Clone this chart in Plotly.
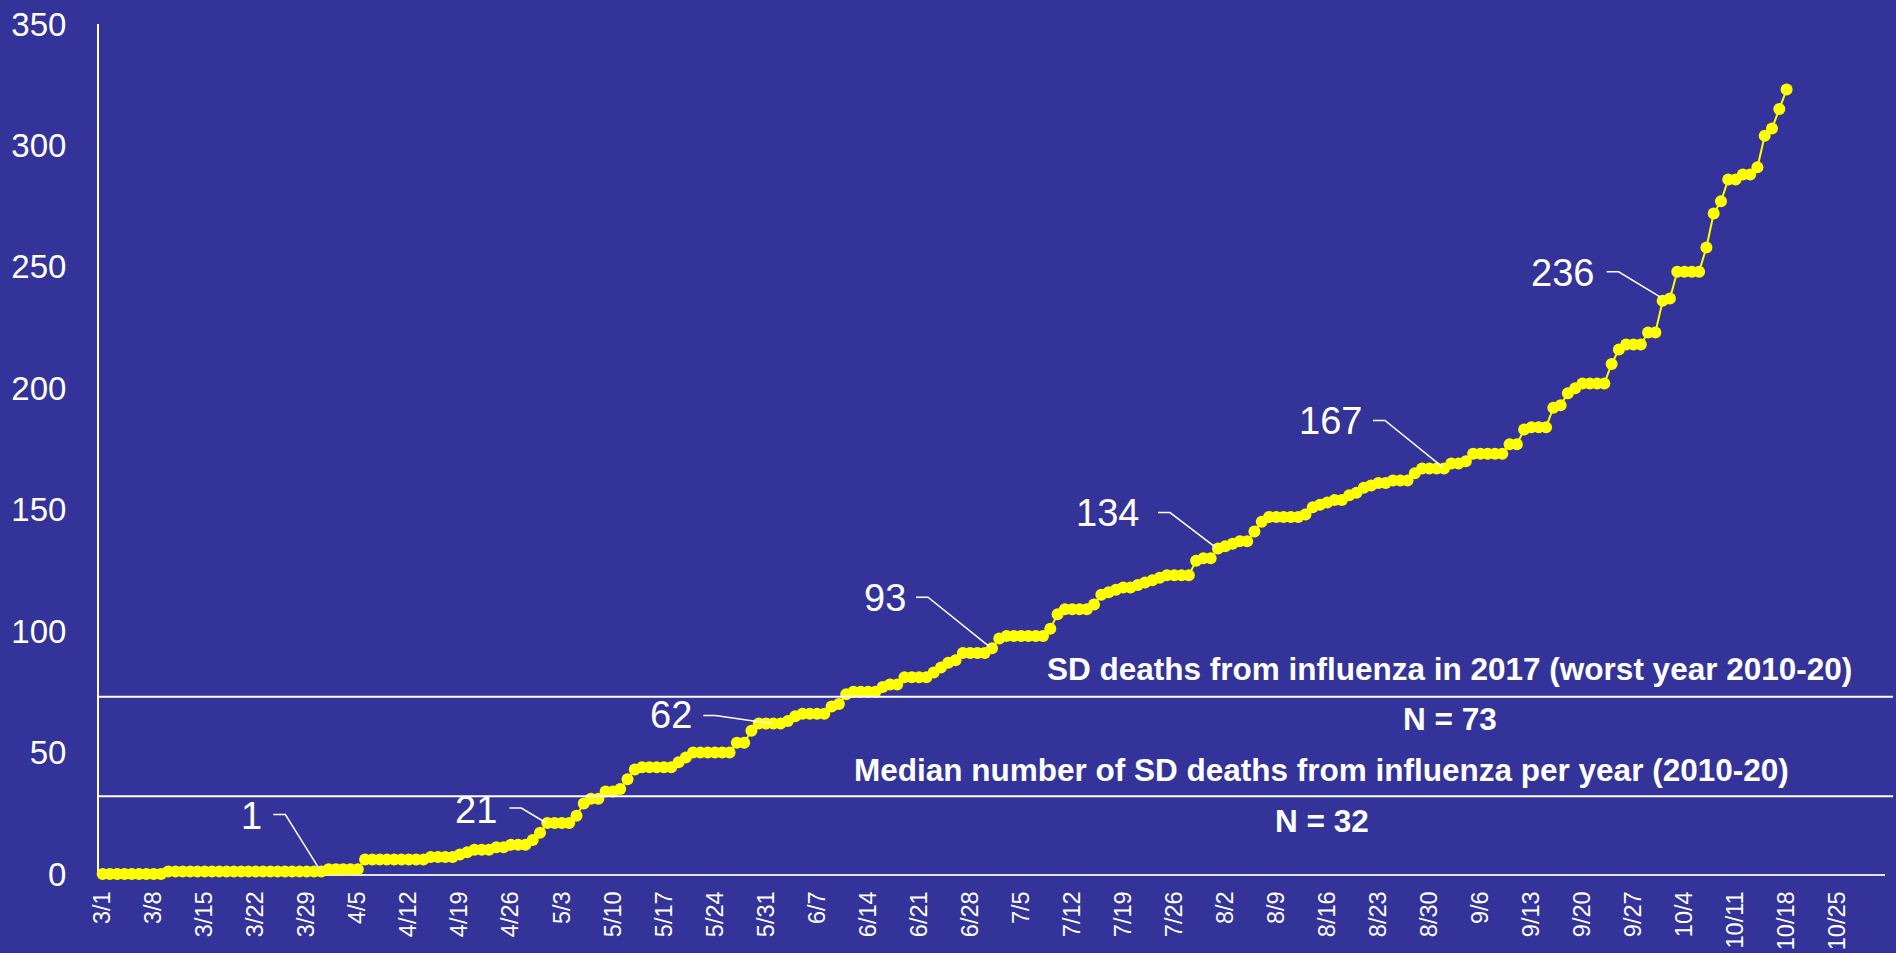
import pandas as pd
import plotly.graph_objects as go

# ---------------- data ----------------
dates = pd.date_range("2020-03-01", "2020-10-31", freq="D")
categories = [f"{d.month}/{d.day}" for d in dates]
tick_positions = list(range(0, len(categories), 7))
tick_labels = [categories[i] for i in tick_positions]

deaths = [
    0, 0, 0, 0, 0, 0, 0, 0, 0,
    1, 1, 1, 1, 1, 1, 1, 1, 1, 1, 1, 1, 1, 1, 1, 1, 1, 1, 1, 1, 1, 1,
    2, 2, 2, 2, 2,
    6, 6, 6, 6, 6, 6, 6, 6, 6,
    7, 7, 7, 7, 8, 9, 10, 10, 10, 11, 11, 12, 12, 12, 14, 17,
    21, 21, 21, 21, 24, 29, 31, 31, 34, 34, 35, 39, 43,
    44, 44, 44, 44, 44, 46, 48, 50, 50, 50, 50, 50, 50, 54, 54, 59,
    62, 62, 62, 62, 63, 65, 66, 66, 66, 66, 69, 70, 74, 75, 75, 75, 75,
    77, 78, 78, 81, 81, 81, 81, 83, 85, 87, 88, 91, 91, 91, 91,
    93, 97, 98, 98, 98, 98, 98, 98, 101, 107, 109, 109, 109, 109,
    111, 115, 116, 117, 118, 118, 119, 120, 121, 122, 123, 123, 123, 123,
    129, 130, 130, 134, 135, 136, 137, 137, 141, 145,
    147, 147, 147, 147, 147, 148, 151, 152, 153, 154, 154, 156, 157, 159,
    160, 161, 161, 162, 162, 162, 165, 167, 167, 167, 167,
    169, 169, 170, 173, 173, 173, 173, 173, 177, 177, 183, 184, 184, 184,
    192, 193, 198, 200, 202, 202, 202, 202, 210, 216, 218, 218, 218,
    223, 223, 236, 237, 248, 248, 248, 248, 258, 272, 277, 286, 286,
    288, 288, 291, 304, 307, 315, 323,
]
days = list(range(len(deaths)))

flu_worst_2017 = 73
flu_median = 32
flu_worst_text = "SD deaths from influenza in 2017 (worst year 2010-20)"
flu_median_text = "Median number of SD deaths from influenza per year (2010-20)"

labeled_days = [30, 61, 92, 122, 153, 184, 214]

# ---------------- styles ----------------
BG = "#333399"
YELLOW = "#FFFF00"
WHITE = "#FFFFFF"
FONT = "Liberation Sans, Arial, sans-serif"

# per-label (text shift x, text shift y, leader start x, leader start y, leader end x, leader end y) in px
label_style = [
    (-70, 56, -48, 57, -1, 1),
    (-71, 13, -38, 15, -1, 0),
    (-102, 8, -70, 8, -2, 0),
    (-107, 50, -76, 51, -2, 1),
    (-110, 36, -60, 36, -2, 1),
    (-113, 47, -71, 48, -1, 1),
    (-100, 28, -56, 29, -1, 3),
]
LEADER_H = 12

fig = go.Figure()
fig.add_trace(go.Scatter(
    x=days, y=deaths, mode="lines+markers",
    line=dict(color=YELLOW, width=2),
    marker=dict(color=YELLOW, size=12, line=dict(width=0)),
    cliponaxis=False, hoverinfo="skip", showlegend=False,
))

annotations = []
shapes = []
for d, st in zip(labeled_days, label_style):
    tx, ty, sx, sy, ex, ey = st
    v = deaths[d]
    annotations.append(dict(
        x=d, y=v, xref="x", yref="y", text=str(v), showarrow=False,
        xanchor="center", yanchor="middle",
        xshift=tx, yshift=ty, font=dict(family=FONT, size=38, color=WHITE),
    ))
    shapes.append(dict(
        type="path", xref="x", yref="y", xsizemode="pixel", ysizemode="pixel",
        xanchor=d, yanchor=v,
        path=f"M {sx},{sy} L {sx + LEADER_H},{sy} L {ex},{ey}",
        line=dict(color=WHITE, width=1.5),
    ))

for val in (flu_worst_2017, flu_median):
    shapes.append(dict(
        type="line", xref="paper", yref="y", x0=0.0, x1=1.0045, y0=val, y1=val,
        line=dict(color=WHITE, width=2), layer="above",
    ))

bold = dict(family=FONT, size=31.5, color=WHITE)
annotations += [
    dict(x=0.7564, y=flu_worst_2017, xref="paper", yref="y", text=f"<b>{flu_worst_text}</b>",
         showarrow=False, xanchor="center", yanchor="middle", yshift=28, font=bold),
    dict(x=0.7564, y=flu_worst_2017, xref="paper", yref="y", text=f"<b>N = {flu_worst_2017}</b>",
         showarrow=False, xanchor="center", yanchor="middle", yshift=-22, font=bold),
    dict(x=0.6847, y=flu_median, xref="paper", yref="y", text=f"<b>{flu_median_text}</b>",
         showarrow=False, xanchor="center", yanchor="middle", yshift=26, font=bold),
    dict(x=0.6847, y=flu_median, xref="paper", yref="y", text=f"<b>N = {flu_median}</b>",
         showarrow=False, xanchor="center", yanchor="middle", yshift=-25, font=bold),
]

fig.update_layout(
    template="none",
    width=1896, height=953,
    margin=dict(l=99, r=11, t=24, b=79, pad=0),
    paper_bgcolor=BG, plot_bgcolor=BG,
    showlegend=False,
    hovermode=False,
    annotations=annotations,
    shapes=shapes,
    xaxis=dict(
        range=[-0.5, len(categories) - 0.5],
        tickmode="array", tickvals=tick_positions, ticktext=tick_labels,
        tickangle=-90, ticks="", showgrid=False, zeroline=False,
        showline=True, linecolor="#E4E4F4", linewidth=2,
        tickfont=dict(family=FONT, size=23.5, color=WHITE),
        ticklabelstandoff=6, automargin=False, layer="below traces",
    ),
    yaxis=dict(
        range=[0, 350], tickmode="array", tickvals=list(range(0, 351, 50)),
        ticks="", showgrid=False, zeroline=False,
        showline=True, linecolor=WHITE, linewidth=2,
        tickfont=dict(family=FONT, size=33, color=WHITE),
        ticklabelstandoff=24, automargin=False, layer="below traces",
    ),
)

fig.write_html("out.html", config={"displayModeBar": False},
               post_script="document.body.style.margin='0';document.body.style.overflow='hidden';")
